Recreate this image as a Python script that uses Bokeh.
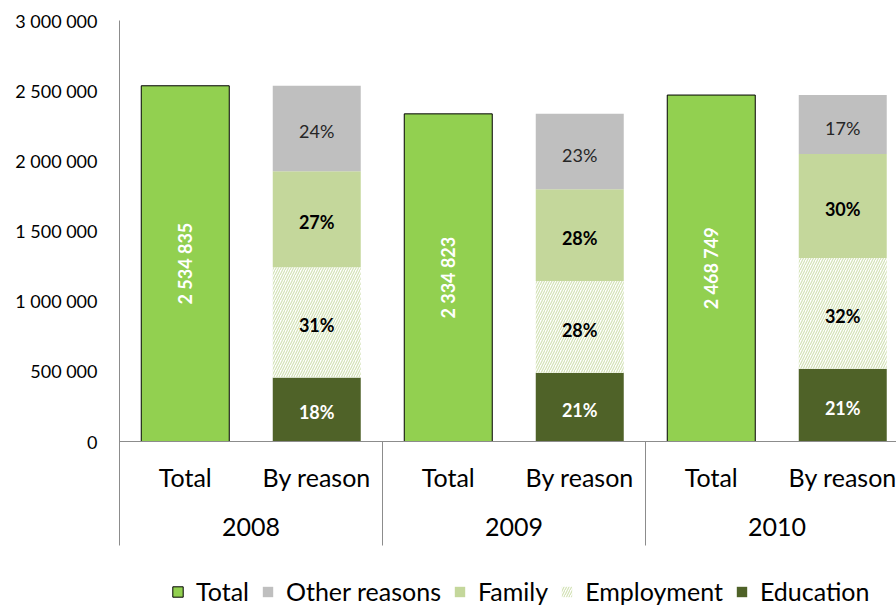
from bokeh.plotting import figure
from bokeh.models import (ColumnDataSource, Range1d, FixedTicker, Legend, LegendItem)
from bokeh.core.properties import value
from bokeh.embed import file_html
from bokeh.resources import INLINE

# ---------------- data ----------------
years = ["2008", "2009", "2010"]
bar_labels = ["Total", "By reason"]
totals = [2534835, 2334823, 2468749]
pct_education = [18, 21, 21]
pct_employment = [31, 28, 32]
pct_family = [27, 28, 30]
pct_other = [24, 23, 17]
y_ticks = [0, 500000, 1000000, 1500000, 2000000, 2500000, 3000000]
y_tick_labels = ["0", "500 000", "1 000 000", "1 500 000", "2 000 000", "2 500 000", "3 000 000"]
series_names = ["Total", "Other reasons", "Family", "Employment", "Education"]

# ---------------- layout constants ----------------
W, H = 896, 605
LEFT, TOP = 119, 20
ZERO_PX = 441          # pixel row of value 0
SLOT_PX = 131.5        # width of one category slot
Y_MAX = 3000000
PX_PER_UNIT = (ZERO_PX - TOP) / Y_MAX

def below_zero(px):
    """data value corresponding to a pixel row below the zero line"""
    return -(px - ZERO_PX) / PX_PER_UNIT

FONT = "Lato"
AXIS_GREY = "#8C8C8C"

p = figure(width=W, height=H, output_backend="svg", toolbar_location=None,
           min_border_left=LEFT, min_border_right=0, min_border_top=TOP,
           min_border_bottom=0,
           x_range=Range1d(0, (W - LEFT) / SLOT_PX),
           y_range=Range1d(below_zero(H), Y_MAX))
p.outline_line_color = None
p.xgrid.visible = False
p.ygrid.visible = False
p.xaxis.visible = False
p.background_fill_color = "white"
p.border_fill_color = "white"

yax = p.yaxis[0]
yax.ticker = FixedTicker(ticks=y_ticks)
yax.major_label_overrides = {t: l for t, l in zip(y_ticks, y_tick_labels)}
yax.major_tick_out = 0
yax.major_tick_in = 0
yax.minor_tick_out = 0
yax.minor_tick_in = 0
yax.major_label_standoff = 22
yax.major_label_text_font = FONT
yax.major_label_text_font_size = "18px"
yax.major_label_text_color = "black"
yax.axis_line_color = AXIS_GREY
yax.bounds = (below_zero(545), Y_MAX)

# ---------------- bars ----------------
n = len(years)
x_total = [2 * i + 0.5 for i in range(n)]
x_reason = [2 * i + 1.5 for i in range(n)]
BW = 88 / SLOT_PX

tot_src = ColumnDataSource(dict(x=x_total, top=totals,
                                lab=[f"{v:,}".replace(",", " ") for v in totals],
                                mid=[v / 2 for v in totals]))
r_total = p.vbar(x="x", top="top", bottom=0, width=BW, source=tot_src,
                 fill_color="#92D050", line_color="black", line_width=1)

# stacked segments (bottom to top): Education, Employment, Family, Other
seg_defs = [
    ("Education", pct_education, dict(fill_color="#4F6228", line_color=None)),
    ("Employment", pct_employment, dict(fill_color="white", line_color=None,
                                        hatch_pattern="/", hatch_color="#D3E2B6",
                                        hatch_scale=5, hatch_weight=1.2)),
    ("Family", pct_family, dict(fill_color="#C4D79B", line_color=None)),
    ("Other reasons", pct_other, dict(fill_color="#BFBFBF", line_color=None)),
]
renderers = {"Total": r_total}
base = [0.0] * n
seg_label_data = []
for name, pcts, style in seg_defs:
    vals = [t * pc / 100 for t, pc in zip(totals, pcts)]
    tops = [b + v for b, v in zip(base, vals)]
    src = ColumnDataSource(dict(x=x_reason, bottom=base, top=tops))
    renderers[name] = p.vbar(x="x", bottom="bottom", top="top", width=BW,
                             source=src, **style)
    seg_label_data.append((name, [(b + t) / 2 for b, t in zip(base, tops)],
                           [f"{pc}%" for pc in pcts]))
    base = tops

# ---------------- labels on bars ----------------
p.text(x="x", y="mid", text="lab", source=tot_src, angle=1.5708,
       text_align="center", text_baseline="middle",
       text_font=value(FONT), text_font_style="bold", text_font_size="18px",
       text_color="white")

label_styles = {
    "Education": dict(text_color="white", text_font_style="bold"),
    "Employment": dict(text_color="black", text_font_style="bold"),
    "Family": dict(text_color="black", text_font_style="bold"),
    "Other reasons": dict(text_color="#262626", text_font_style="normal"),
}
for name, mids, labs in seg_label_data:
    p.text(x=x_reason, y=mids, text=labs, text_align="center",
           text_baseline="middle", y_offset=3,
           text_font=value(FONT), text_font_size="18px", **label_styles[name])

# ---------------- category axis drawn by hand ----------------
x_end = (W - LEFT) / SLOT_PX
p.segment(x0=[0], y0=[0], x1=[x_end], y1=[0], line_color=AXIS_GREY, line_width=1)
sep_x = [2 * i for i in range(1, n)]
p.segment(x0=sep_x, y0=[0] * len(sep_x), x1=sep_x, y1=[below_zero(545)] * len(sep_x),
          line_color=AXIS_GREY, line_width=1)

cat_x = x_total + x_reason
cat_t = [bar_labels[0]] * n + [bar_labels[1]] * n
p.text(x=cat_x, y=[below_zero(476)] * len(cat_x), text=cat_t,
       text_align="center", text_baseline="middle",
       text_font=value(FONT), text_font_size="25px", text_color="black")
p.text(x=[2 * i + 1 for i in range(n)], y=[below_zero(526)] * n, text=years,
       text_align="center", text_baseline="middle",
       text_font=value(FONT), text_font_size="25px", text_color="black")

# ---------------- legend ----------------
legend = Legend(items=[LegendItem(label=nm, renderers=[renderers[nm]]) for nm in series_names],
                orientation="horizontal", location=(52, -1),
                glyph_width=13, glyph_height=13, label_standoff=12, spacing=12,
                padding=0, margin=0, border_line_color=None,
                background_fill_alpha=0,
                label_text_font=FONT, label_text_font_size="25px",
                label_text_color="black", label_height=20)
p.add_layout(legend, "center")

open("out.html", "w").write(file_html(p, INLINE))
